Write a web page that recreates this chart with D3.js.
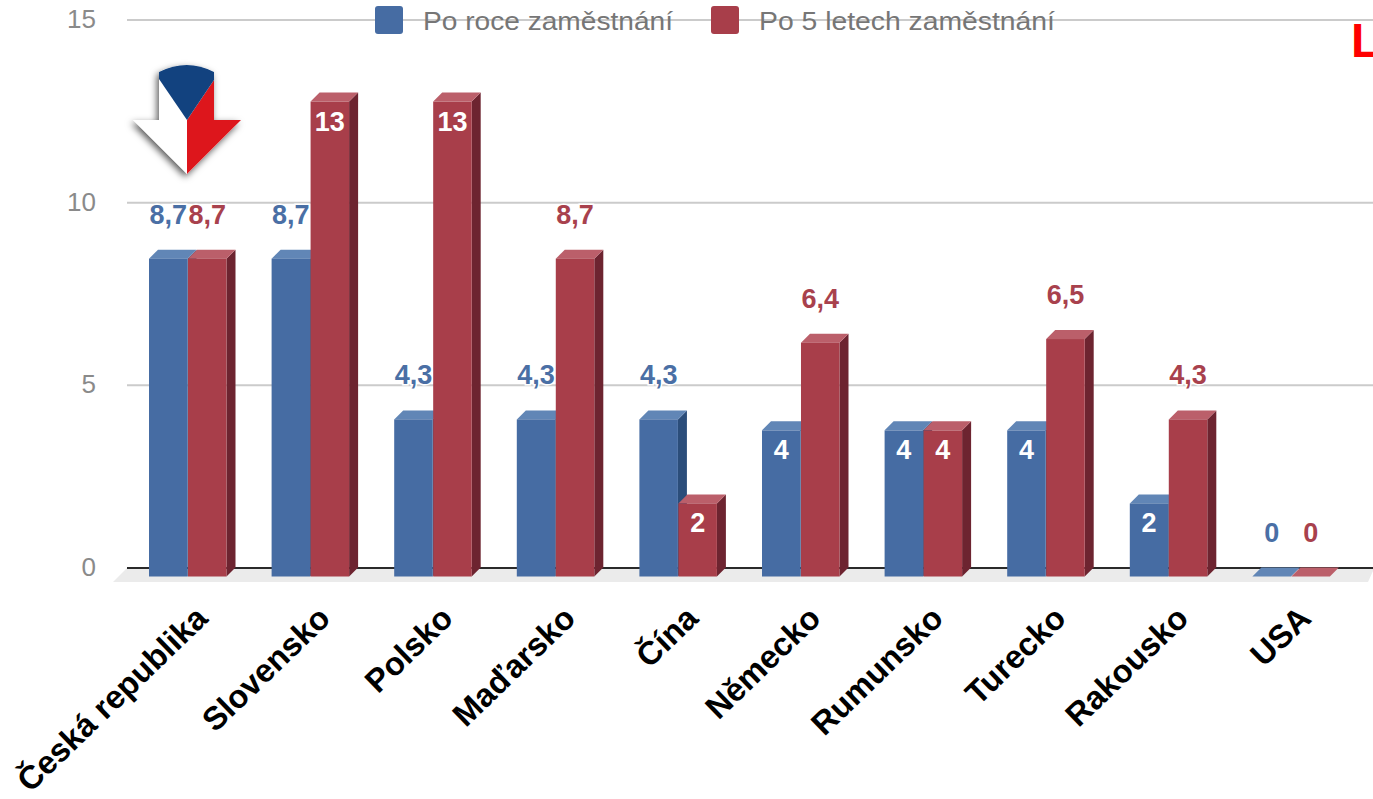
<!DOCTYPE html>
<html lang="cs">
<head>
<meta charset="utf-8">
<script src="https://cdn.jsdelivr.net/npm/d3@7"></script>
<style>
html,body{margin:0;padding:0;background:#fff;overflow:hidden}
svg{display:block}
text{font-family:"Liberation Sans",Arial,sans-serif}
</style>
</head>
<body>
<svg id="chart" width="1373" height="799"></svg>
<script>
const categories = ["Česká republika","Slovensko","Polsko","Maďarsko","Čína","Německo","Rumunsko","Turecko","Rakousko","USA"];
const seriesNames = ["Po roce zaměstnání","Po 5 letech zaměstnání"];
const afterOneYear = [8.7,8.7,4.3,4.3,4.3,4,4,4,2,0];
const afterFiveYears = [8.7,13,13,8.7,2,6.4,4,6.5,4.3,0];
const yTicks = [0,5,10,15];

const W=1373,H=799,depth=9,floorDrop=8.5;
const colors=[
 {front:"#466ca3",top:"#6186b6",side:"#2b4d7a",label:"#4a6fa5"},
 {front:"#a83e4a",top:"#bb5f6a",side:"#6d2430",label:"#a8414d"}
];
const svg=d3.select("#chart");
const y=d3.scaleLinear().domain([0,15]).range([568,20]);
const bandW=77.5, step=122.6;
const x=d3.scaleBand().domain(categories).range([149,149+9*step+bandW]).paddingInner(1-bandW/step).paddingOuter(0);
const x1=d3.scaleBand().domain([0,1]).range([0,x.bandwidth()]).paddingInner(0.012);
const fmt=d3.formatLocale({decimal:",",thousands:" ",grouping:[3],currency:["","Kč"]}).format("~r");
const series=[afterOneYear,afterFiveYears];

const bg=svg.append("g");
// gridlines
bg.selectAll("line.grid").data(yTicks.filter(t=>t>0)).join("line")
  .attr("x1",127).attr("x2",W).attr("y1",y).attr("y2",y)
  .attr("stroke","#cbcbcb").attr("stroke-width",2);
// floor
bg.append("path").attr("fill","#ebebeb")
  .attr("d",`M127,${y(0)}L${W},${y(0)}L${W},${y(0)+3}L1368,${y(0)+14}L113,${y(0)+14}Z`);
bg.append("line").attr("x1",127).attr("x2",W).attr("y1",y(0)).attr("y2",y(0))
  .attr("stroke","#2a2a2a").attr("stroke-width",2);
// y tick labels
bg.selectAll("text.tick").data(yTicks).join("text")
  .attr("x",96).attr("y",d=>y(d)+8).attr("text-anchor","end")
  .attr("font-size",26).attr("fill","#8a8a8a").text(d=>d);

// legend
const legendX=[375,711], legendTextX=[423,759], legendW=[250,296];
const lg=svg.append("g");
seriesNames.forEach((n,i)=>{
  lg.append("rect").attr("x",legendX[i]).attr("y",6).attr("width",28).attr("height",28).attr("rx",3)
    .attr("fill",colors[i].front);
  lg.append("text").attr("x",legendTextX[i]).attr("y",30).attr("font-size",25).attr("fill","#767676")
    .attr("textLength",legendW[i]).attr("lengthAdjust","spacingAndGlyphs").text(n);
});

function isInside(v){return v>0&&Number.isInteger(v);}
const plot=svg.append("g");
categories.forEach((c,ci)=>{
  [0,1].forEach(si=>{
    const v=series[si][ci], col=colors[si];
    const x0=x(c)+x1(si), w=x1.bandwidth();
    const yb=y(0)+floorDrop, yt=y(v)+floorDrop;
    const g=plot.append("g");
    const label=()=>g.append("text").attr("x",x0+w/2)
      .attr("text-anchor","middle").attr("font-size",27).attr("font-weight",700);
    if(!isInside(v)){
      label().attr("y",yt-35).attr("fill",col.label)
        .attr("stroke","#fff").attr("stroke-width",3).attr("paint-order","stroke")
        .text(fmt(v));
    }
    if(v>0){
      g.append("path").attr("fill",col.side)
        .attr("d",`M${x0+w},${yt}L${x0+w+depth},${yt-depth}L${x0+w+depth},${yb-depth}L${x0+w},${yb}Z`);
    }
    g.append("path").attr("fill",col.top)
      .attr("d",`M${x0},${yt}L${x0+depth},${yt-depth}L${x0+w+depth},${yt-depth}L${x0+w},${yt}Z`);
    if(v>0){
      g.append("rect").attr("x",x0).attr("y",yt).attr("width",w).attr("height",yb-yt).attr("fill",col.front);
    }
    if(isInside(v)){
      label().attr("y",yt+29).attr("fill","#fff").text(fmt(v));
    }
  });
});

// category labels
svg.append("g").selectAll("text").data(categories).join("text")
  .attr("transform",d=>`translate(${x(d)+x.bandwidth()/2+6},${604}) rotate(-44)`)
  .attr("text-anchor","end").attr("dy","0.7em")
  .attr("font-size",32.5).attr("font-weight",700).attr("fill","#000").text(d=>d);

// red letter clipped at right edge
svg.append("text").attr("x",1351).attr("y",57).attr("font-size",48).attr("font-weight",700).attr("fill","#f00").text("L");

// Czech arrow logo
const defs=svg.append("defs");
const f=defs.append("filter").attr("id","sh").attr("x","-30%").attr("y","-30%").attr("width","160%").attr("height","160%");
f.append("feDropShadow").attr("dx",-2).attr("dy",3).attr("stdDeviation",3.5).attr("flood-color","#000").attr("flood-opacity",0.65);
const logo=svg.append("g");
logo.append("path").attr("fill","#fff").attr("filter","url(#sh)")
  .attr("d","M159,72Q187,58 214,72L214,120L241,120L187,174L133,120L159,120Z");
logo.append("path").attr("fill","#dd161c").attr("d","M214,80L214,120L241,120L187,174L187,120Z");
logo.append("path").attr("fill","#12427f").attr("d","M159,72Q187,58 214,72L214,80L187,120L159,79Z");
</script>
</body>
</html>
